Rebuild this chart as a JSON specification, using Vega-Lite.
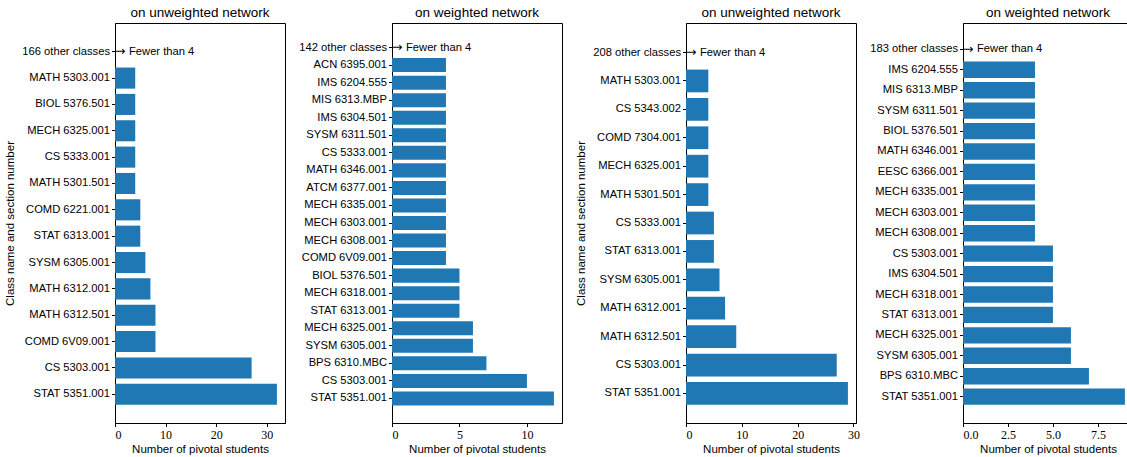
{
  "$schema": "https://vega.github.io/schema/vega-lite/v6.json",
  "padding": {"left": 4, "top": 5, "right": 5, "bottom": 5},
  "background": "white",
  "spacing": 6,
  "config": {
    "view": {"stroke": "black", "strokeWidth": 1},
    "axis": {"domainColor": "black", "tickColor": "black", "grid": false, "labelColor": "black", "titleColor": "black", "labelFont": "Liberation Sans", "titleFont": "Liberation Sans", "titleFontWeight": "normal", "labelFontSize": 11.2, "titleFontSize": 11.5, "tickSize": 3.5, "labelPadding": 2},
    "axisX": {"labelFont": "Liberation Serif", "labelFontSize": 12, "titlePadding": 3, "labelPadding": 3},
    "axisY": {"titlePadding": 6},
    "title": {"font": "Liberation Sans", "fontSize": 13.5, "fontWeight": "normal", "color": "black", "offset": 4},
    "text": {"font": "Liberation Sans", "fontSize": 11.2}
  },
  "hconcat": [
    {
      "width": 170, "height": 400,
      "title": "on unweighted network",
      "data": {"values": [
        {"cls": "166 other classes", "n": 0, "note": "Fewer than 4"},
        {"cls": "MATH 5303.001", "n": 4},
        {"cls": "BIOL 5376.501", "n": 4},
        {"cls": "MECH 6325.001", "n": 4},
        {"cls": "CS 5333.001", "n": 4},
        {"cls": "MATH 5301.501", "n": 4},
        {"cls": "COMD 6221.001", "n": 5},
        {"cls": "STAT 6313.001", "n": 5},
        {"cls": "SYSM 6305.001", "n": 6},
        {"cls": "MATH 6312.001", "n": 7},
        {"cls": "MATH 6312.501", "n": 8},
        {"cls": "COMD 6V09.001", "n": 8},
        {"cls": "CS 5303.001", "n": 27},
        {"cls": "STAT 5351.001", "n": 32}
      ]},
      "encoding": {
        "y": {"field": "cls", "type": "nominal", "sort": null, "scale": {"paddingInner": 0.2, "paddingOuter": 0.69}, "axis": {"title": "Class name and section number"}},
        "x": {"field": "n", "type": "quantitative", "scale": {"domain": [0, 33.6], "nice": false}, "axis": {"values": [0, 10, 20, 30], "title": "Number of pivotal students"}}
      },
      "layer": [
        {"mark": {"type": "bar", "color": "#1f77b4"}},
        {"mark": {"type": "text", "align": "left", "baseline": "middle", "dx": 0, "dy": -0.5, "color": "black", "font": "DejaVu Sans", "fontSize": 12.5}, "encoding": {"text": {"condition": {"test": "datum.note", "value": "→"}, "value": ""}}},
        {"mark": {"type": "text", "align": "left", "baseline": "middle", "dx": 14, "color": "black"}, "encoding": {"text": {"condition": {"test": "datum.note", "field": "note"}, "value": ""}}}
      ]
    },
    {
      "width": 170, "height": 400,
      "title": "on weighted network",
      "data": {"values": [
        {"cls": "142 other classes", "n": 0, "note": "Fewer than 4"},
        {"cls": "ACN 6395.001", "n": 4},
        {"cls": "IMS 6204.555", "n": 4},
        {"cls": "MIS 6313.MBP", "n": 4},
        {"cls": "IMS 6304.501", "n": 4},
        {"cls": "SYSM 6311.501", "n": 4},
        {"cls": "CS 5333.001", "n": 4},
        {"cls": "MATH 6346.001", "n": 4},
        {"cls": "ATCM 6377.001", "n": 4},
        {"cls": "MECH 6335.001", "n": 4},
        {"cls": "MECH 6303.001", "n": 4},
        {"cls": "MECH 6308.001", "n": 4},
        {"cls": "COMD 6V09.001", "n": 4},
        {"cls": "BIOL 5376.501", "n": 5},
        {"cls": "MECH 6318.001", "n": 5},
        {"cls": "STAT 6313.001", "n": 5},
        {"cls": "MECH 6325.001", "n": 6},
        {"cls": "SYSM 6305.001", "n": 6},
        {"cls": "BPS 6310.MBC", "n": 7},
        {"cls": "CS 5303.001", "n": 10},
        {"cls": "STAT 5351.001", "n": 12}
      ]},
      "encoding": {
        "y": {"field": "cls", "type": "nominal", "sort": null, "scale": {"paddingInner": 0.2, "paddingOuter": 1.04}, "axis": {"title": null}},
        "x": {"field": "n", "type": "quantitative", "scale": {"domain": [0, 12.6], "nice": false}, "axis": {"values": [0, 5, 10], "title": "Number of pivotal students"}}
      },
      "layer": [
        {"mark": {"type": "bar", "color": "#1f77b4"}},
        {"mark": {"type": "text", "align": "left", "baseline": "middle", "dx": 0, "dy": -0.5, "color": "black", "font": "DejaVu Sans", "fontSize": 12.5}, "encoding": {"text": {"condition": {"test": "datum.note", "value": "→"}, "value": ""}}},
        {"mark": {"type": "text", "align": "left", "baseline": "middle", "dx": 14, "color": "black"}, "encoding": {"text": {"condition": {"test": "datum.note", "field": "note"}, "value": ""}}}
      ]
    },
    {
      "width": 170, "height": 400,
      "title": "on unweighted network",
      "data": {"values": [
        {"cls": "208 other classes", "n": 0, "note": "Fewer than 4"},
        {"cls": "MATH 5303.001", "n": 4},
        {"cls": "CS 5343.002", "n": 4},
        {"cls": "COMD 7304.001", "n": 4},
        {"cls": "MECH 6325.001", "n": 4},
        {"cls": "MATH 5301.501", "n": 4},
        {"cls": "CS 5333.001", "n": 5},
        {"cls": "STAT 6313.001", "n": 5},
        {"cls": "SYSM 6305.001", "n": 6},
        {"cls": "MATH 6312.001", "n": 7},
        {"cls": "MATH 6312.501", "n": 9},
        {"cls": "CS 5303.001", "n": 27},
        {"cls": "STAT 5351.001", "n": 29}
      ]},
      "encoding": {
        "y": {"field": "cls", "type": "nominal", "sort": null, "scale": {"paddingInner": 0.2, "paddingOuter": 0.64}, "axis": {"title": "Class name and section number"}},
        "x": {"field": "n", "type": "quantitative", "scale": {"domain": [0, 30.45], "nice": false}, "axis": {"values": [0, 10, 20, 30], "title": "Number of pivotal students"}}
      },
      "layer": [
        {"mark": {"type": "bar", "color": "#1f77b4"}},
        {"mark": {"type": "text", "align": "left", "baseline": "middle", "dx": 0, "dy": -0.5, "color": "black", "font": "DejaVu Sans", "fontSize": 12.5}, "encoding": {"text": {"condition": {"test": "datum.note", "value": "→"}, "value": ""}}},
        {"mark": {"type": "text", "align": "left", "baseline": "middle", "dx": 14, "color": "black"}, "encoding": {"text": {"condition": {"test": "datum.note", "field": "note"}, "value": ""}}}
      ]
    },
    {
      "width": 170, "height": 400,
      "title": "on weighted network",
      "data": {"values": [
        {"cls": "183 other classes", "n": 0, "note": "Fewer than 4"},
        {"cls": "IMS 6204.555", "n": 4},
        {"cls": "MIS 6313.MBP", "n": 4},
        {"cls": "SYSM 6311.501", "n": 4},
        {"cls": "BIOL 5376.501", "n": 4},
        {"cls": "MATH 6346.001", "n": 4},
        {"cls": "EESC 6366.001", "n": 4},
        {"cls": "MECH 6335.001", "n": 4},
        {"cls": "MECH 6303.001", "n": 4},
        {"cls": "MECH 6308.001", "n": 4},
        {"cls": "CS 5303.001", "n": 5},
        {"cls": "IMS 6304.501", "n": 5},
        {"cls": "MECH 6318.001", "n": 5},
        {"cls": "STAT 6313.001", "n": 5},
        {"cls": "MECH 6325.001", "n": 6},
        {"cls": "SYSM 6305.001", "n": 6},
        {"cls": "BPS 6310.MBC", "n": 7},
        {"cls": "STAT 5351.001", "n": 9}
      ]},
      "encoding": {
        "y": {"field": "cls", "type": "nominal", "sort": null, "scale": {"paddingInner": 0.2, "paddingOuter": 0.89}, "axis": {"title": null}},
        "x": {"field": "n", "type": "quantitative", "scale": {"domain": [0, 9.45], "nice": false}, "axis": {"values": [0, 2.5, 5, 7.5], "format": ".1f", "title": "Number of pivotal students"}}
      },
      "layer": [
        {"mark": {"type": "bar", "color": "#1f77b4"}},
        {"mark": {"type": "text", "align": "left", "baseline": "middle", "dx": 0, "dy": -0.5, "color": "black", "font": "DejaVu Sans", "fontSize": 12.5}, "encoding": {"text": {"condition": {"test": "datum.note", "value": "→"}, "value": ""}}},
        {"mark": {"type": "text", "align": "left", "baseline": "middle", "dx": 14, "color": "black"}, "encoding": {"text": {"condition": {"test": "datum.note", "field": "note"}, "value": ""}}}
      ]
    }
  ]
}
